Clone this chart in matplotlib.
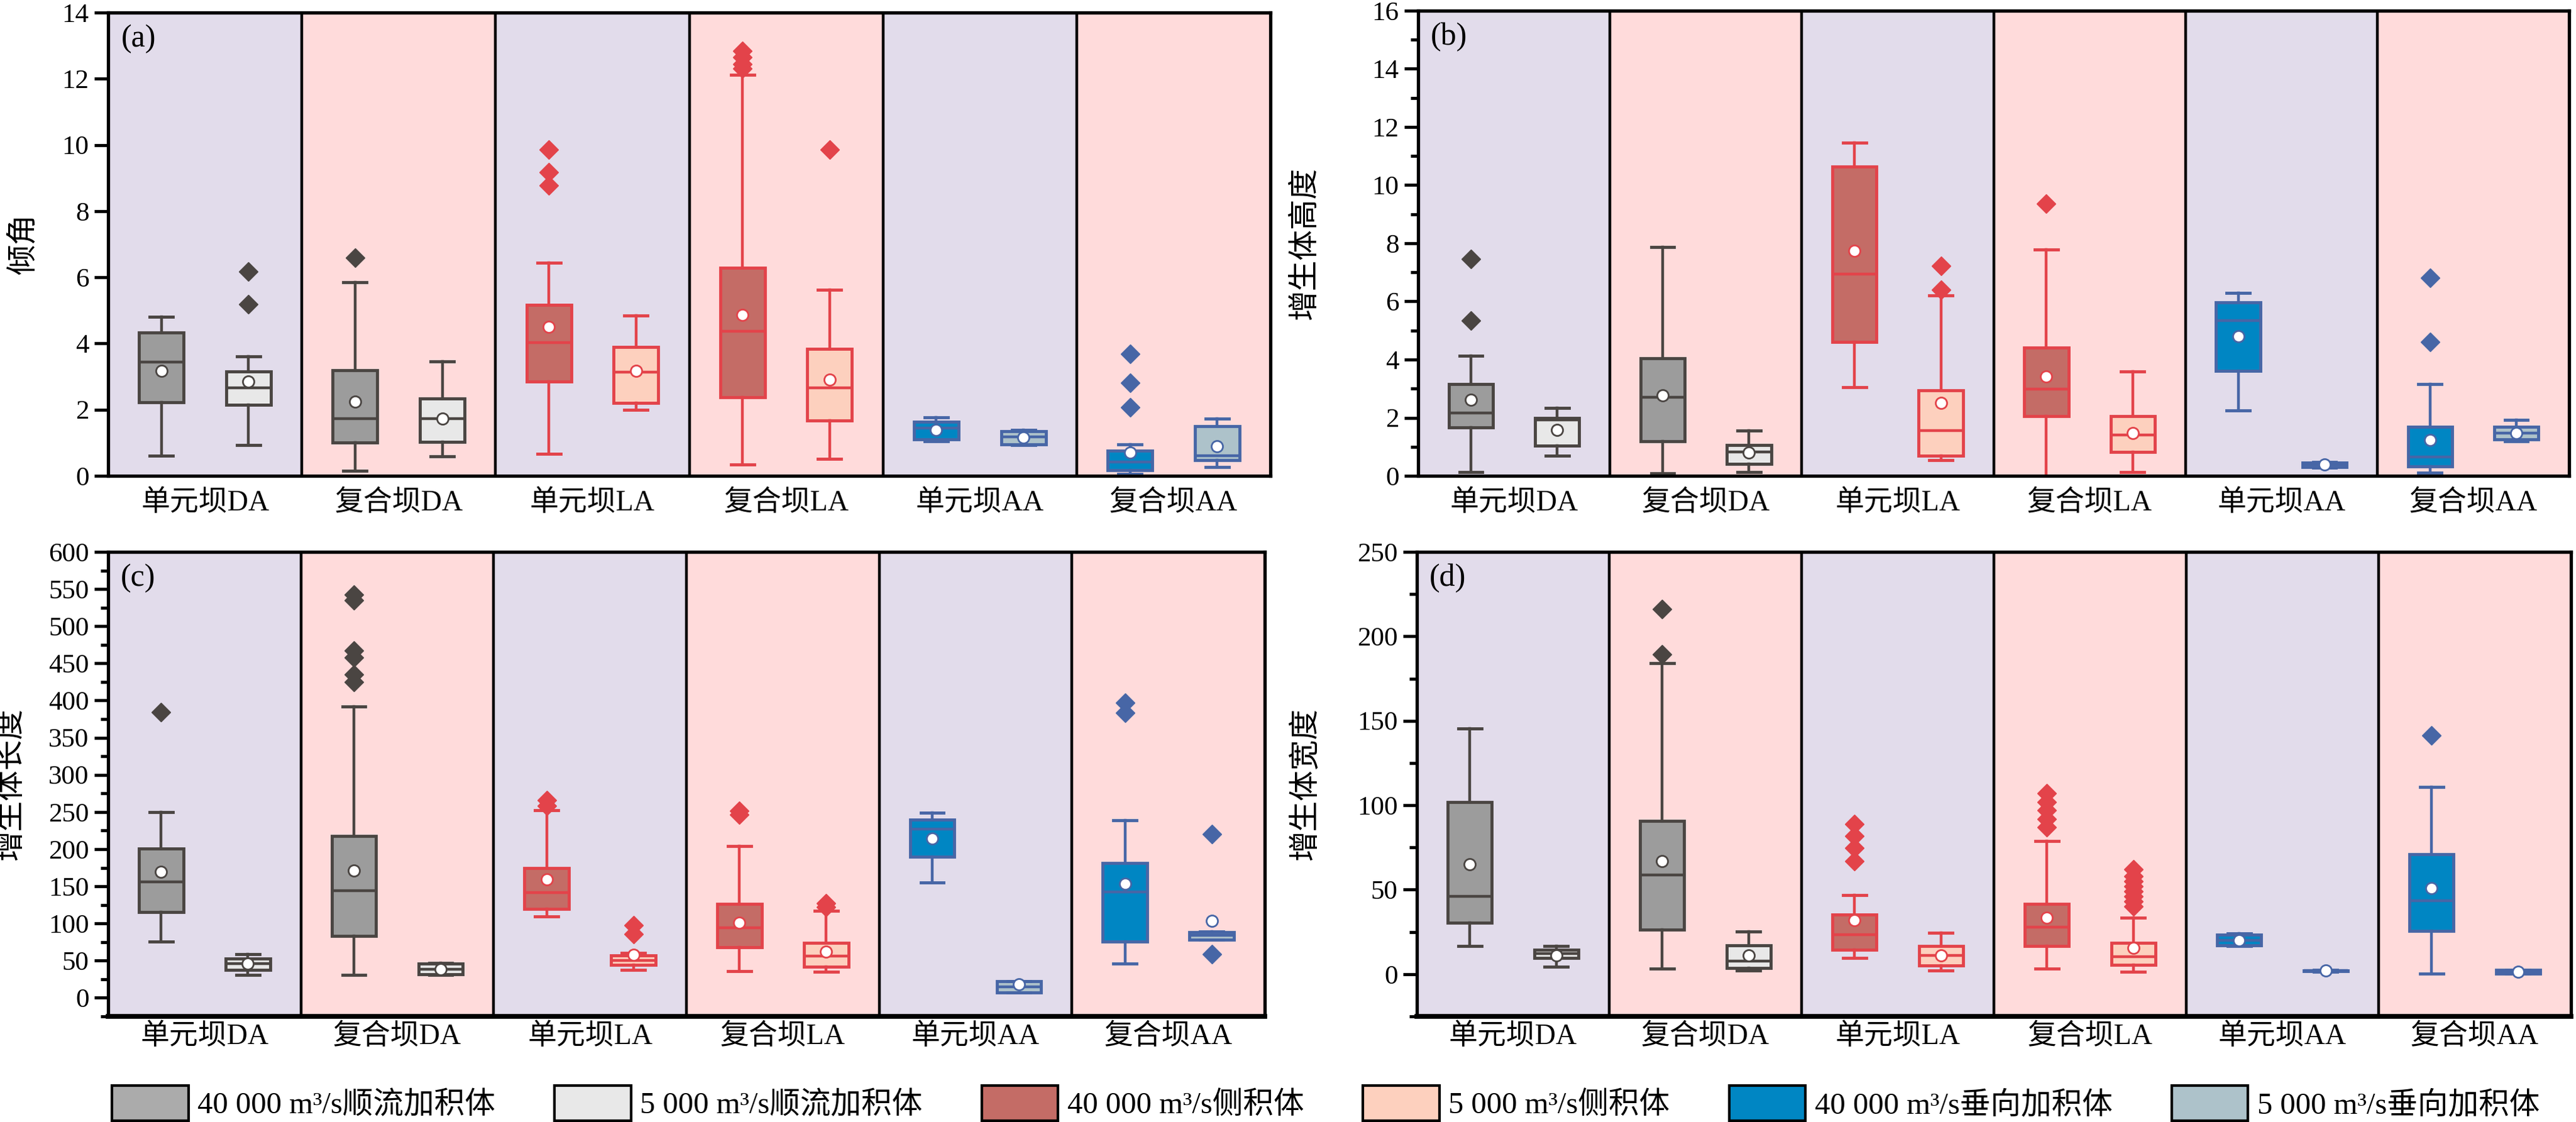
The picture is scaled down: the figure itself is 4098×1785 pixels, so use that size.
import matplotlib
matplotlib.use('Agg')
import matplotlib.pyplot as plt
from matplotlib.patches import Patch
from matplotlib.ticker import MultipleLocator
from matplotlib.font_manager import FontProperties

plt.rcParams['font.family'] = ['Liberation Serif', 'Noto Sans CJK SC', 'DejaVu Sans']

# ---------------- data ----------------
categories = ['单元坝DA', '复合坝DA', '单元坝LA', '复合坝LA', '单元坝AA', '复合坝AA']
legend_labels = ['40 000 m³/s顺流加积体', '5 000 m³/s顺流加积体', '40 000 m³/s侧积体',
                 '5 000 m³/s侧积体', '40 000 m³/s垂向加积体', '5 000 m³/s垂向加积体']

# each tuple: (whisker low, Q1, median, Q3, whisker high, mean)
tilt_40k = [(0.61, 2.23, 3.44, 4.34, 4.80, 3.18), (0.16, 1.00, 1.72, 3.20, 5.86, 2.24),
            (0.67, 2.84, 4.02, 5.16, 6.44, 4.51), (0.35, 2.38, 4.36, 6.28, 12.11, 4.87),
            (1.05, 1.11, 1.45, 1.63, 1.77, 1.39), (0.05, 0.17, 0.42, 0.76, 0.95, 0.71)]
tilt_40k_fliers = [[], [6.59], [9.86, 9.17, 8.77], [12.85, 12.65, 12.45, 12.30], [], [3.68, 2.81, 2.08]]
tilt_5k = [(0.93, 2.14, 2.66, 3.15, 3.61, 2.84), (0.58, 1.02, 1.72, 2.34, 3.45, 1.72),
           (1.99, 2.21, 3.13, 3.90, 4.85, 3.18), (0.51, 1.68, 2.66, 3.83, 5.62, 2.91),
           (0.93, 0.95, 1.18, 1.35, 1.38, 1.16), (0.27, 0.47, 0.61, 1.50, 1.72, 0.90)]
tilt_5k_fliers = [[6.18, 5.18], [], [], [9.86], [], []]

height_40k = [(0.13, 1.66, 2.16, 3.16, 4.12, 2.61), (0.09, 1.20, 2.71, 4.05, 7.86, 2.77),
              (3.05, 4.60, 6.93, 10.64, 11.46, 7.75), (0.00, 2.05, 2.99, 4.41, 7.79, 3.41),
              (2.25, 3.61, 5.33, 5.96, 6.29, 4.80), (0.11, 0.33, 0.64, 1.69, 3.16, 1.23)]
height_40k_fliers = [[7.47, 5.33], [], [], [9.37], [], [6.82, 4.60]]
height_5k = [(0.70, 1.03, 1.92, 2.00, 2.33, 1.58), (0.13, 0.41, 0.83, 1.06, 1.55, 0.81),
             (0.53, 0.70, 1.56, 2.95, 6.21, 2.50), (0.13, 0.83, 1.40, 2.05, 3.58, 1.47),
             (0.28, 0.30, 0.38, 0.45, 0.47, 0.39), (1.20, 1.25, 1.47, 1.69, 1.92, 1.47)]
height_5k_fliers = [[], [], [7.23, 6.40], [], [], []]

length_40k = [(75.7, 115.1, 156.0, 200.9, 250.0, 169.7), (31.2, 83.0, 144.5, 217.9, 392.2, 171.0),
              (109.2, 119.3, 141.3, 174.3, 252.3, 159.6), (35.8, 68.0, 94.0, 126.0, 204.0, 101.0),
              (155.0, 189.4, 227.0, 240.0, 249.0, 214.7), (45.9, 75.7, 142.7, 181.2, 238.5, 153.7)]
length_40k_fliers = [[384.4], [542.7, 534.9, 467.0, 457.8, 434.9, 424.8], [266.0, 258.0],
                     [251.4, 246.8], [], [397.0, 383.5]]
length_5k = [(31.2, 38.0, 45.9, 53.2, 58.7, 45.9), (31.0, 31.5, 38.5, 45.9, 46.5, 38.5),
             (38.0, 44.0, 50.0, 57.0, 60.0, 58.0), (34.9, 41.7, 56.4, 73.9, 117.4, 62.4),
             (7.3, 7.5, 15.0, 22.0, 22.2, 18.3), (78.0, 78.5, 84.0, 88.5, 89.0, 103.2)]
length_5k_fliers = [[], [], [97.7, 86.2], [127.5, 122.0], [], [220.0, 58.7]]

width_40k = [(16.5, 30.6, 46.0, 101.8, 145.6, 64.9), (3.4, 26.2, 58.9, 90.7, 184.0, 66.9),
             (9.5, 14.5, 23.2, 35.3, 47.0, 31.9), (3.4, 16.7, 27.8, 41.7, 79.0, 33.3),
             (16.5, 17.0, 20.0, 23.5, 24.0, 20.2), (0.4, 25.6, 43.3, 71.0, 110.9, 50.8)]
width_40k_fliers = [[], [216.0, 189.5], [88.7, 81.7, 74.6, 66.9], [107.0, 102.0, 97.0, 92.0, 87.0],
                    [], [141.5]]
width_5k = [(4.4, 9.7, 12.1, 14.5, 16.5, 11.1), (2.0, 3.6, 7.7, 17.1, 25.2, 11.1),
            (2.0, 5.0, 11.0, 16.7, 24.6, 11.1), (1.6, 5.4, 10.5, 18.5, 33.3, 15.5),
            (1.5, 1.8, 2.0, 2.2, 2.5, 2.0), (0.2, 0.4, 1.4, 2.4, 2.6, 1.4)]
width_5k_fliers = [[], [], [], [62.0, 58.0, 55.0, 52.0, 49.0, 46.0, 43.0, 40.0], [], []]

# ---------------- style ----------------
W, H = 4098, 1785
fill_40k = ['#9C9C9C', '#C46C66', '#0086C3']
fill_5k = ['#E8E8E8', '#FDD0BE', '#ADC2CA']
edge_cols = ['#4A4542', '#E3434A', '#4766A6']
legend_fills = ['#ABABAB', '#E8E8E8', '#C46C66', '#FDD0BE', '#0086C3', '#ADC2CA']
bg_cols = ['#E2DCEB', '#FFDBDB']

num_font = 'Liberation Serif'
mixed = ['Liberation Serif', 'Noto Sans CJK SC']

fig = plt.figure(figsize=(W / 100, H / 100), dpi=100)


def px_axes(l, t, r, b):
    return fig.add_axes([l / W, 1 - b / H, (r - l) / W, (b - t) / H])


def draw_panel(ax, s40, f40, s5, f5, ylim, major, minor, ylabel, tag, ylab_x, xpad, bottom_lw):
    for i in range(6):
        ax.axvspan(i + 0.5, i + 1.5, color=bg_cols[i % 2], zorder=0, lw=0)
    for i in range(1, 6):
        ax.axvline(i + 0.5, color='black', lw=3.2, zorder=1)
    for i in range(6):
        g = i // 2
        for stats, fl, fc, pos in ((s40, f40, fill_40k[g], i + 1 - 0.225),
                                   (s5, f5, fill_5k[g], i + 1 + 0.225)):
            lo, q1, med, q3, hi, mean = stats[i]
            d = dict(whislo=lo, q1=q1, med=med, q3=q3, whishi=hi, mean=mean, fliers=fl[i])
            ec = edge_cols[g]
            ax.bxp([d], positions=[pos], widths=0.23, capwidths=0.12,
                   patch_artist=True, showmeans=True,
                   boxprops=dict(facecolor=fc, edgecolor=ec, linewidth=3.5),
                   whiskerprops=dict(color=ec, linewidth=3.2),
                   capprops=dict(color=ec, linewidth=3.5),
                   medianprops=dict(color=ec, linewidth=3.2),
                   meanprops=dict(marker='o', markerfacecolor='white', markeredgecolor=ec,
                                  markersize=13, markeredgewidth=2),
                   flierprops=dict(marker='D', markerfacecolor=ec, markeredgecolor=ec,
                                   markersize=15),
                   zorder=3)
    ax.set_xlim(0.5, 6.5)
    ax.set_ylim(*ylim)
    ax.yaxis.set_major_locator(MultipleLocator(major))
    if minor:
        ax.yaxis.set_minor_locator(MultipleLocator(minor))
    ax.set_xticks(range(1, 7))
    ax.set_xticklabels(categories, fontsize=33, family=mixed)
    ax.tick_params(axis='x', length=0, pad=xpad)
    ax.tick_params(axis='y', which='major', direction='out', length=16, width=3.5,
                   labelsize=31, pad=6)
    ax.tick_params(axis='y', which='minor', direction='out', length=9, width=3.5)
    for lab in ax.get_yticklabels():
        lab.set_family(num_font)
    for sp in ax.spines.values():
        sp.set_linewidth(3.8)
        sp.set_color('black')
        sp.set_zorder(5)
    ax.spines['bottom'].set_linewidth(bottom_lw)
    ax.set_ylabel(ylabel, fontsize=35, family=mixed)
    ax.yaxis.set_label_coords(ylab_x, 0.5)
    ax.text(0.011, 0.975, tag, transform=ax.transAxes, ha='left', va='top',
            fontsize=36, family=num_font, zorder=6)


ax_a = px_axes(172, 20, 2021, 757)
ax_b = px_axes(2256, 17, 4087, 757)
ax_c = px_axes(172, 878, 2012, 1617)
ax_d = px_axes(2254, 878, 4090, 1617)

draw_panel(ax_a, tilt_40k, tilt_40k_fliers, tilt_5k, tilt_5k_fliers, (0, 14), 2, None,
           '倾角', '(a)', -0.06, 16, 3.8)
draw_panel(ax_b, height_40k, height_40k_fliers, height_5k, height_5k_fliers, (0, 16), 2, 1,
           '增生体高度', '(b)', -0.086, 16, 3.8)
draw_panel(ax_c, length_40k, length_40k_fliers, length_5k, length_5k_fliers, (-25, 600), 50, 25,
           '增生体长度', '(c)', -0.072, 8, 5.5)
draw_panel(ax_d, width_40k, width_40k_fliers, width_5k, width_5k_fliers, (-25, 250), 50, 25,
           '增生体宽度', '(d)', -0.084, 8, 5.5)

handles = [Patch(facecolor=c, edgecolor='black', linewidth=3) for c in legend_fills]
fig.legend(handles, legend_labels, loc='lower left',
           bbox_to_anchor=(178 / W, 2 / H, (4040 - 178) / W, 70 / H),
           ncol=6, mode='expand', frameon=False,
           prop=FontProperties(family=mixed, size=35),
           handlelength=2.5, handleheight=1.4, handletextpad=0.3,
           borderaxespad=0, borderpad=0)

fig.savefig('out.png', dpi=100)
